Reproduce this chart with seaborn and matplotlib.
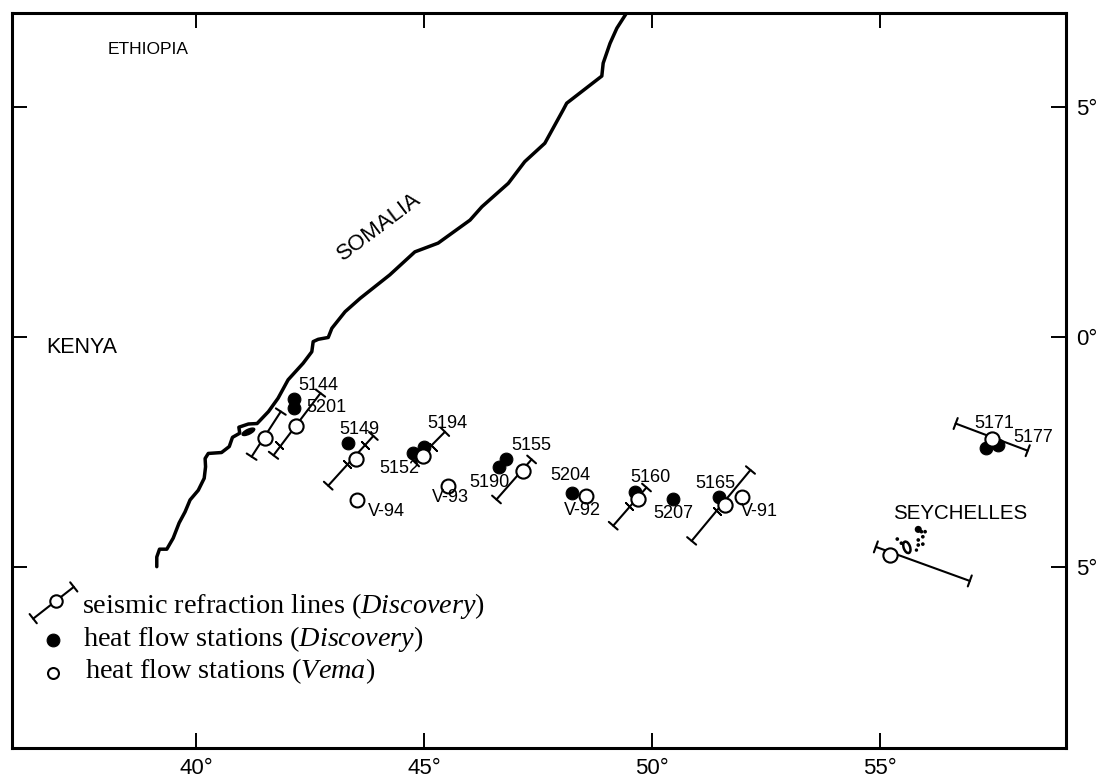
import pandas as pd
import matplotlib
matplotlib.use('Agg')
import matplotlib.pyplot as plt
from matplotlib.patches import Ellipse
import seaborn as sns

# Coastline
coast_lon = [39.14, 39.14, 39.20, 39.36, 39.50, 39.63, 39.76, 39.87, 40.05, 40.18, 40.21, 40.20,
             40.27, 40.56, 40.73, 40.80, 40.96, 40.94, 41.15, 41.34, 41.59, 41.80, 42.02, 42.35,
             42.54, 42.57, 42.68, 42.90, 42.98, 43.27, 43.60, 44.25, 44.80, 45.31, 46.01, 46.27,
             46.85, 47.21, 47.65, 48.05, 48.13, 48.90, 48.93, 49.08, 49.23, 49.43]
coast_lat = [-4.99, -4.78, -4.61, -4.61, -4.37, -4.04, -3.80, -3.54, -3.33, -3.07, -2.82, -2.64,
             -2.53, -2.51, -2.38, -2.18, -2.09, -1.96, -1.89, -1.88, -1.62, -1.33, -0.93, -0.57,
             -0.32, -0.10, -0.05, -0.01, 0.19, 0.55, 0.84, 1.35, 1.85, 2.04, 2.54, 2.83,
             3.34, 3.81, 4.21, 4.93, 5.08, 5.67, 5.95, 6.38, 6.71, 7.02]

# Seismic refraction lines
line_lon0 = [41.22, 41.70, 42.90, 44.80, 46.59, 49.15, 50.87, 54.91, 56.66]
line_lat0 = [-2.60, -2.57, -3.23, -2.72, -3.53, -4.10, -4.43, -4.56, -1.88]
line_lon1 = [41.86, 42.73, 43.89, 45.46, 47.36, 49.88, 52.16, 56.97, 58.24]
line_lat1 = [-1.62, -1.22, -2.15, -2.06, -2.66, -3.27, -2.89, -5.30, -2.47]
shot_lon = [41.51, 42.19, 43.52, 44.98, 47.18, 49.70, 51.60, 55.23, 57.46]
shot_lat = [-2.20, -1.93, -2.64, -2.59, -2.91, -3.51, -3.65, -4.74, -2.22]
mark_lon = [41.83, 43.32, 43.71, 45.19, 49.50, 51.42]
mark_lat = [-2.35, -2.76, -2.35, -2.38, -3.67, -3.78]

# Heat flow stations
disc_lon = [42.15, 42.16, 43.33, 44.77, 45.00, 46.64, 46.80, 48.25, 49.63, 50.47, 51.47, 57.32, 57.58]
disc_lat = [-1.35, -1.55, -2.31, -2.53, -2.40, -2.83, -2.66, -3.38, -3.36, -3.52, -3.48, -2.41, -2.35]
vema_lon = [43.54, 45.53, 48.55, 51.98]
vema_lat = [-3.54, -3.23, -3.45, -3.48]

# Station labels
label_text = ['5144', '5201', '5149', '5194', '5152', '5155', '5190', 'V-94', 'V-93', '5204', 'V-92',
              '5160', '5207', '5165', 'V-91', '5171', '5177']
label_lon = [42.68, 42.85, 43.58, 45.51, 44.46, 47.36, 46.43, 44.18, 45.57, 48.20, 48.48,
             49.96, 50.47, 51.38, 52.35, 57.51, 58.35]
label_lat = [-1.06, -1.53, -2.01, -1.88, -2.85, -2.36, -3.16, -3.80, -3.48, -3.02, -3.76,
             -3.05, -3.83, -3.18, -3.80, -1.89, -2.18]

# Seychelles islets
islet_lon = [55.84, 55.99, 55.91, 55.94, 55.84, 55.94, 55.84, 55.80, 55.38, 55.47]
islet_lat = [-4.18, -4.23, -4.23, -4.34, -4.41, -4.50, -4.52, -4.63, -4.39, -4.48]
islet_size = [26, 7, 7, 7, 7, 7, 7, 6, 7, 7]

# Tick labels
x_ticks = [40, 45, 50, 55]
x_labels = ['40°', '45°', '50°', '55°']
y_ticks = [5, 0, -5]
y_labels = ['5°', '0°', '5°']

sns.set_theme(style='ticks')
plt.rcParams['font.family'] = ['Liberation Sans', 'DejaVu Sans']
plt.rcParams['mathtext.fontset'] = 'custom'
plt.rcParams['mathtext.rm'] = 'Liberation Serif'
plt.rcParams['mathtext.it'] = 'Liberation Serif:italic'

fig = plt.figure(figsize=(10.96, 7.78), dpi=100)
ax = fig.add_axes([12 / 1096, 1 - 748 / 778, 1054 / 1096, 735 / 778])
ax.set_xlim(35.965, 59.08)
ax.set_ylim(-8.93, 7.04)


def seismic_line(lon0, lat0, lon1, lat1):
    ax.annotate('', xy=(lon1, lat1), xytext=(lon0, lat0), zorder=2,
                arrowprops=dict(arrowstyle='|-|,widthA=0.42,widthB=0.42', mutation_scale=10,
                                color='black', lw=1.5, shrinkA=0, shrinkB=0))


def open_dots(lon, lat, size, zorder=4):
    sns.scatterplot(x=lon, y=lat, ax=ax, s=size, color='white', edgecolor='black',
                    linewidth=1.5, zorder=zorder, legend=False, clip_on=False)


sns.lineplot(data=pd.DataFrame({'lon': coast_lon, 'lat': coast_lat}), x='lon', y='lat', sort=False,
             estimator=None, ax=ax, color='black', lw=2.5, zorder=1)

for i in range(len(line_lon0)):
    seismic_line(line_lon0[i], line_lat0[i], line_lon1[i], line_lat1[i])

ax.scatter(mark_lon, mark_lat, marker=(2, 2, 45), s=50, color='black', linewidth=1.3, zorder=2)

sns.scatterplot(x=disc_lon, y=disc_lat, ax=ax, s=85, color='black', edgecolor='black', zorder=3, legend=False)
open_dots(shot_lon, shot_lat, 105)
open_dots(vema_lon, vema_lat, 100)

for txt, lon, lat in zip(label_text, label_lon, label_lat):
    ax.text(lon, lat, txt, fontsize=13, ha='center', va='center', color='black', zorder=5)

# Islands
ax.add_patch(Ellipse((41.15, -2.06), 0.30, 0.11, angle=25, color='black', zorder=2))
ax.add_patch(Ellipse((55.59, -4.57), 0.14, 0.26, angle=20, fc='white', ec='black', lw=1.8, zorder=2))
sns.scatterplot(x=islet_lon, y=islet_lat, ax=ax, s=islet_size, color='black', linewidth=0, zorder=2, legend=False)

# Country names
ax.text(38.95, 6.24, 'ETHIOPIA', fontsize=12.5, ha='center', va='center', color='black')
ax.text(37.50, -0.22, 'KENYA', fontsize=15.5, ha='center', va='center', color='black')
ax.text(44.01, 2.39, 'SOMALIA', fontsize=16, rotation=37, ha='center', va='center', color='black')
ax.text(56.75, -3.83, 'SEYCHELLES', fontsize=14.8, ha='center', va='center', color='black')

# Legend
seismic_line(36.43, -6.12, 37.32, -5.43)
open_dots([36.93], [-5.73], 80)
sns.scatterplot(x=[36.87], y=[-6.59], ax=ax, s=85, color='black', edgecolor='black', zorder=3, legend=False)
open_dots([36.87], [-7.30], 62)
ax.text(37.50, -5.85, r'seismic refraction lines ($\mathit{Discovery}$)', fontsize=20.3, family='Liberation Serif', va='center', color='black')
ax.text(37.52, -6.57, r'heat flow stations ($\mathit{Discovery}$)', fontsize=20.3, family='Liberation Serif', va='center', color='black')
ax.text(37.57, -7.26, r'heat flow stations ($\mathit{Vema}$)', fontsize=20.3, family='Liberation Serif', va='center', color='black')

# Frame and ticks
ax.set_xlabel('')
ax.set_ylabel('')
ax.set_xticks(x_ticks)
ax.set_xticklabels(x_labels)
ax.set_yticks(y_ticks)
ax.set_yticklabels(y_labels)
ax.tick_params(axis='both', direction='in', length=11, width=1.4, color='black', labelsize=16, labelcolor='black',
               top=True, bottom=True, left=True, right=True, labelleft=False, labelright=True, pad=7)
for spine in ax.spines.values():
    spine.set_visible(True)
    spine.set_color('black')
    spine.set_linewidth(2.2)

fig.savefig('out.png', dpi=100, facecolor='white')
plt.close(fig)
